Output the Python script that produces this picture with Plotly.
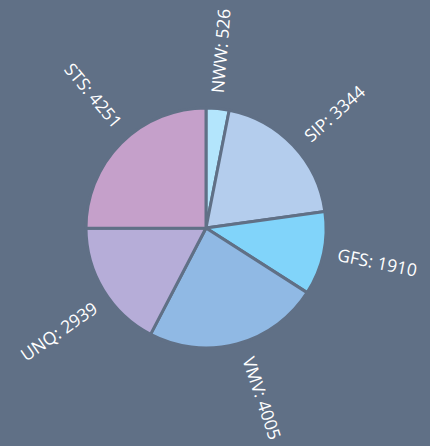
import math
import plotly.graph_objects as go

labels = ["NWW", "SIP", "GFS", "VMV", "UNQ", "STS"]
values = [526, 3344, 1910, 4005, 2939, 4251]
colors = ["#b3e5fc", "#b4cded", "#81d4fa", "#90b9e4", "#b6add8", "#c5a0ca"]

BG = "#607086"
W, H = 430, 446
CX, CY, R = 206, 228, 120
FS = 17.5
# small angular nudges (deg) of the outside labels, as laid out in the original
label_nudge = [-1.0, 1.5, -1.0, -3.5, -3.5, 5.0]

fig = go.Figure(go.Pie(
    labels=labels, values=values, sort=False, direction="clockwise", rotation=0,
    marker=dict(colors=colors, line=dict(color=BG, width=3)),
    textinfo="none", hoverinfo="label+value", showlegend=False,
    domain=dict(x=[(CX - R) / W, (CX + R) / W],
                y=[(H - CY - R) / H, (H - CY + R) / H]),
))

# approximate Open Sans advance widths (em) for placing radial labels
cw = {"N": 0.76, "W": 0.93, "S": 0.55, "I": 0.28, "P": 0.6, "G": 0.73, "F": 0.52,
      "V": 0.65, "M": 0.91, "U": 0.75, "Q": 0.78, "T": 0.56, ":": 0.27, " ": 0.26}
total = sum(values)
cum = 0
for lab, v, nud in zip(labels, values, label_nudge):
    mid = (cum + v / 2) / total * 360.0 + nud
    cum += v
    text = f"{lab}: {v}"
    L = sum(cw.get(c, 0.572) for c in text) * FS
    r = 135 + L / 2
    rad = math.radians(mid)
    px = CX + r * math.sin(rad)
    py = CY - r * math.cos(rad)
    ang = mid - 90
    if ang > 90:
        ang -= 180
    fig.add_annotation(x=px / W, y=1 - py / H, xref="paper", yref="paper",
                       text=text, showarrow=False, textangle=ang,
                       xanchor="center", yanchor="middle",
                       font=dict(family="Open Sans", size=FS, color="white"))

fig.update_layout(width=W, height=H, paper_bgcolor=BG, plot_bgcolor=BG,
                  margin=dict(l=0, r=0, t=0, b=0))
fig.write_html("out.html", config={"displayModeBar": False},
               post_script="document.body.style.margin='0';document.body.style.background='" + BG + "';")
